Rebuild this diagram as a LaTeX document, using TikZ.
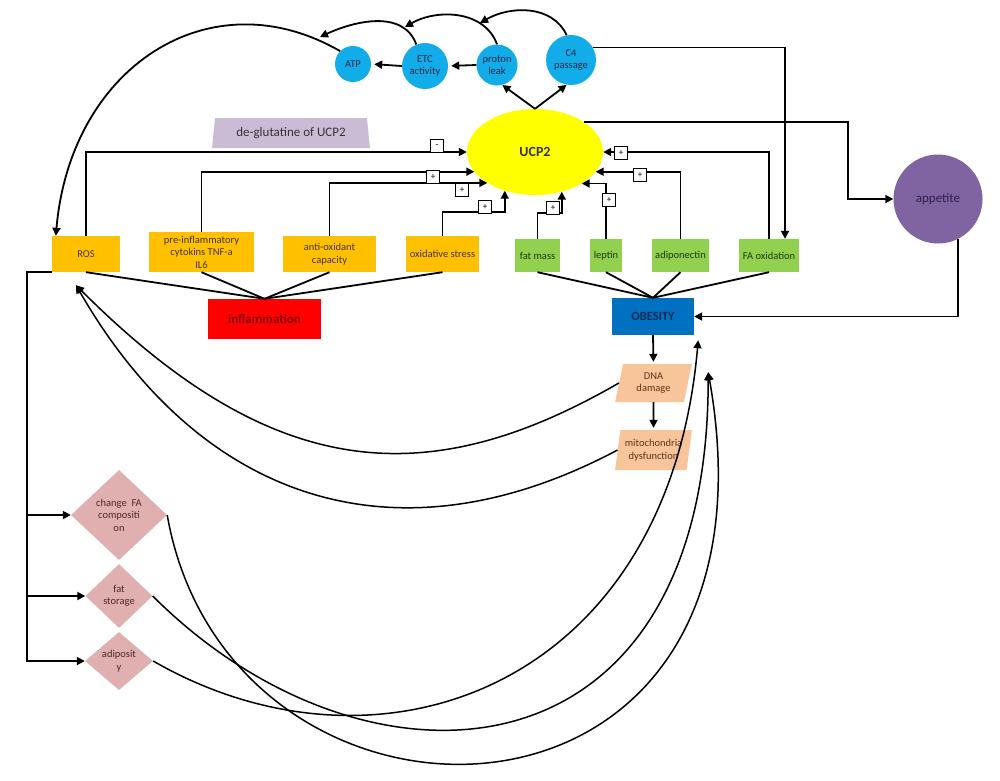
\documentclass[tikz,border=0pt]{standalone}
\usepackage{fontspec}
\setmainfont{Carlito}
\usetikzlibrary{shapes.geometric,arrows.meta,calc}
\definecolor{skyb}{HTML}{12ACE8}
\definecolor{navytxt}{HTML}{14284A}
\definecolor{yel}{HTML}{FFFF00}
\definecolor{orng}{HTML}{FFC000}
\definecolor{orngtxt}{HTML}{45370C}
\definecolor{grn}{HTML}{92D050}
\definecolor{grntxt}{HTML}{223A0E}
\definecolor{purp}{HTML}{8064A2}
\definecolor{purptxt}{HTML}{2E2044}
\definecolor{obblue}{HTML}{0070C0}
\definecolor{obtxt}{HTML}{0A2A5A}
\definecolor{infltxt}{HTML}{800000}
\definecolor{peach}{HTML}{F8C49A}
\definecolor{peachtxt}{HTML}{5A361E}
\definecolor{rose}{HTML}{DFB0AF}
\definecolor{rosetxt}{HTML}{4E2928}
\definecolor{lilac}{HTML}{CBBCD6}
\newcommand{\lblfont}{\fontsize{10.5pt}{12.5pt}\selectfont}
\tikzset{
  bubble/.style={circle, fill=skyb, text=navytxt, font=\lblfont, align=center, inner sep=0pt},
  obox/.style={rectangle, fill=orng, text=orngtxt, font=\lblfont, align=center, inner sep=0pt},
  gbox/.style={rectangle, fill=grn, text=grntxt, font=\lblfont, align=center, inner sep=0pt, minimum height=33pt},
  pbox/.style={trapezium, trapezium left angle=78, trapezium right angle=102, trapezium stretches=true,
    fill=peach, text=peachtxt, font=\lblfont, align=center, inner sep=0pt, minimum width=77pt},
  dbox/.style={diamond, fill=rose, text=rosetxt, font=\lblfont, align=center, inner sep=0pt},
  sgn/.style={draw, fill=white, line width=1.4pt, minimum size=13pt, inner sep=0pt, font=\fontsize{9pt}{10pt}\selectfont},
  arr/.style={line width=1.8pt, -{Triangle[length=8pt,width=8pt]}},
  lnk/.style={line width=1.8pt},
  crv/.style={line width=1.5pt, -{Triangle[length=8pt,width=8pt]}},
}

\begin{document}
\begin{tikzpicture}[x=1pt,y=1pt]
\path[fill=white] (0,0) rectangle (1000,-780);
\useasboundingbox (0,0) rectangle (1000,-780);

\node[bubble, minimum size=36pt] (atp) at (353,-64) {ATP};
\node[bubble, minimum size=46pt] (etc) at (425,-66) {ETC\\activity};
\node[bubble, minimum size=41pt] (leak) at (497,-65) {proton\\leak};
\node[bubble, minimum size=50pt] (c4) at (571,-60) {C4\\passage};

\node[ellipse, fill=yel, text=black!80, minimum width=136pt, minimum height=86pt,
  font=\fontsize{14pt}{16pt}\selectfont\bfseries] (ucp) at (535,-152) {UCP2};
\node[trapezium, trapezium left angle=79, trapezium right angle=79, trapezium stretches=true,
  fill=lilac, text=black!80, minimum width=158pt, minimum height=30pt, inner sep=0pt,
  font=\fontsize{13pt}{15pt}\selectfont] (deglu) at (291,-133) {de-glutatine of UCP2};
\node[circle, fill=purp, text=purptxt, minimum size=89pt, inner sep=0pt,
  font=\fontsize{13pt}{15pt}\selectfont] (appetite) at (938,-199) {appetite};

\node[obox, minimum width=68pt, minimum height=36pt] (ros) at (86,-254) {ROS};
\node[obox, minimum width=105pt, minimum height=40pt] (pre) at (201.5,-252) {pre-inflammatory\\cytokins TNF-a\\IL6};
\node[obox, minimum width=93pt, minimum height=36pt] (antiox) at (329.5,-254) {anti-oxidant\\capacity};
\node[obox, minimum width=73pt, minimum height=36pt] (oxs) at (442.5,-254) {oxidative stress};

\node[gbox, minimum width=45pt] (fatm) at (537.5,-255.5) {fat mass};
\node[gbox, minimum width=32pt] (lep) at (606,-255.5) {leptin};
\node[gbox, minimum width=57pt] (adipo) at (680.5,-255.5) {adiponectin};
\node[gbox, minimum width=60pt] (faox) at (769,-255.5) {FA oxidation};

\node[rectangle, fill=red, text=infltxt, minimum width=113pt, minimum height=40pt,
  font=\fontsize{13pt}{15pt}\selectfont\bfseries] (infl) at (264.5,-319) {inflammation};
\node[rectangle, fill=obblue, text=obtxt, minimum width=82pt, minimum height=37pt,
  font=\fontsize{12.5pt}{15pt}\selectfont\bfseries] (obesity) at (653,-316.5) {OBESITY};
\node[pbox, minimum height=38pt] (dna) at (653.5,-383) {DNA\\damage};
\node[pbox, minimum height=40pt] (mito) at (653.5,-450) {mitochondria\\dysfunction};

\node[dbox, minimum width=96pt, minimum height=90pt] (chfa) at (119,-515) {change~~FA\\compositi\\on};
\node[dbox, minimum width=67pt, minimum height=64pt] (fst) at (119,-596) {fat\\storage};
\node[dbox, minimum width=68pt, minimum height=58pt] (adipos) at (119,-661) {adiposit\\y};

% top chain
\coordinate (j1) at (480,-23);
\coordinate (j2) at (405,-27);
\coordinate (j3) at (320,-37);
\draw[arr, shorten >=3pt] (leak.west) -- (etc.east);
\draw[arr, shorten >=3pt] (etc.west) -- (atp.east);
\draw[arr] (c4.100) to[out=115,in=30] (j1);
\draw[arr] (leak.north) to[out=110,in=30] (j2);
\draw[arr] (etc.112) to[out=110,in=25] (j3);
\draw[arr] (atp.135) .. controls +(150:150) and +(85:170) .. ($(ros.north west)+(4,0)$);
\draw[arr] (ucp.north) -- (leak.-75);
\draw[arr] (ucp.north) -- (c4.-100);
\draw[arr] (c4.30) -| ($(faox.north)+(16,0)$);
\draw[arr] (ucp.32) -| ($(appetite.west)+(-45,0)$) -- (appetite.west);
\draw[arr] (appetite.-63) |- (obesity.east);

% inputs of UCP2
\draw[arr] (ros.north) |- (ucp.west);
\draw[arr] (pre.north) |- (ucp.198);
\draw[arr] (antiox.north) |- (ucp.213);
\draw[arr] (oxs.north) |- ([yshift=-21pt]ucp.232) -- (ucp.232);
\draw[arr] (fatm.north) |- ([yshift=-21pt]ucp.304) -- (ucp.304);
\draw[arr] (lep.north) |- (ucp.326);
\draw[arr] (adipo.north) |- (ucp.-18);
\draw[arr] (faox.north) |- (ucp.east);

\node[sgn] (s1) at (437,-146) {-};
\node[sgn] (s2) at (433,-177) {+};
\node[sgn] (s3) at (462,-190) {+};
\node[sgn] (s4) at (485,-207) {+};
\node[sgn] (s5) at (553,-208) {+};
\node[sgn] (s6) at (609,-200) {+};
\node[sgn] (s7) at (640,-175) {+};
\node[sgn] (s8) at (621,-153) {+};

\draw[lnk] (ros.south) -- (infl.north);
\draw[lnk] (pre.south) -- (infl.north);
\draw[lnk] (antiox.south) -- (infl.north);
\draw[lnk] (oxs.south) -- (infl.north);
\draw[lnk] (fatm.south) -- (obesity.north);
\draw[lnk] (lep.south) -- (obesity.north);
\draw[lnk] (adipo.south) -- (obesity.north);
\draw[lnk] (faox.south) -- (obesity.north);

\draw[arr, shorten >=2pt] (obesity.south) -- (dna.north);
\draw[arr, shorten >=2pt] (dna.south) -- (mito.north);

% back to ROS
\coordinate (rosin) at ($(ros.south)+(-10,-13)$);
\draw[crv] (dna.west) .. controls +(210:220) and +(-45:280) .. (rosin);
\draw[crv] (mito.west) .. controls +(208:250) and +(-60:250) .. (rosin);

\draw[arr] (ros.south west) -- ++(-25,0) coordinate (bus) |- (adipos.west);
\draw[arr] (bus |- chfa.west) -- (chfa.west);
\draw[arr] (bus |- fst.west) -- (fst.west);

% back to OBESITY
\coordinate (obin1) at ($(obesity.south east)+(4,-5)$);
\coordinate (obin2) at ($(obesity.south east)+(14,-37)$);
\draw[crv] (adipos.east) .. controls +(-30:260) and +(-95:350) .. (obin1);
\draw[crv] (fst.east) .. controls +(-45:300) and +(-90:420) .. (obin2);
\draw[crv] (chfa.east) .. controls +(-80:360) and +(-80:500) .. (obin2);

\end{tikzpicture}
\end{document}
